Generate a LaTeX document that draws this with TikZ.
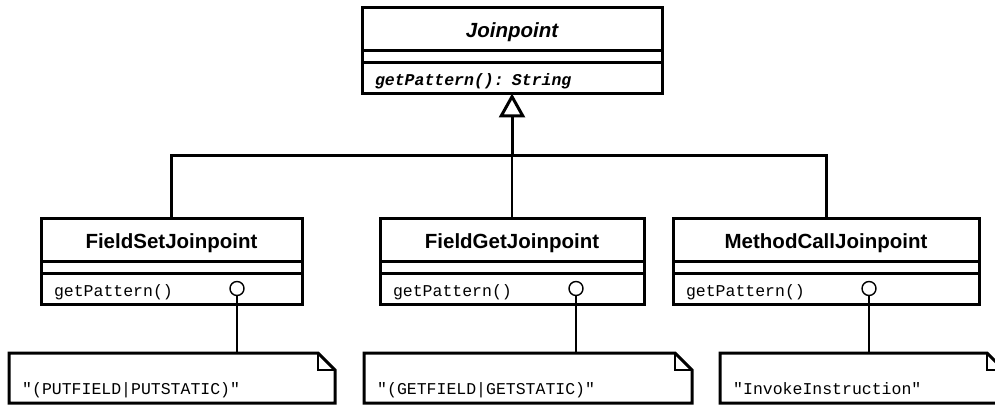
\documentclass[tikz,border=0pt]{standalone}
\usepackage{fontspec}
\setsansfont{Liberation Sans}
\setmonofont{Liberation Mono}
\usetikzlibrary{positioning,arrows.meta}

\tikzset{
  compartment/.style={draw, line width=3pt, outer sep=0pt, inner sep=0pt},
  classname/.style={compartment, minimum height=43pt, text height=18pt, text depth=0pt,
    font=\sffamily\bfseries\fontsize{20.5}{24}\selectfont},
  classattr/.style={compartment, minimum height=12pt},
  classop/.style={compartment, minimum height=31pt, inner xsep=13pt, text height=15pt,
    text depth=0pt, align=left, font=\ttfamily\fontsize{16.5}{20}\selectfont},
  port/.style={draw, circle, line width=1.4pt, fill=white, minimum size=14pt, inner sep=0pt},
  note/.style={inner sep=0pt, outer sep=0pt, minimum height=50pt, anchor=north west},
  notebox/.style={line width=3pt, line join=miter},
  notetext/.style={anchor=base west, inner sep=0pt, font=\ttfamily\fontsize{16.5}{20}\selectfont},
  noteline/.style={line width=1.4pt},
  genline/.style={line width=3pt}
}

\begin{document}
\begin{tikzpicture}[x=1pt, y=-1pt]
  \clip (0,0) rectangle (995,406);

  % abstract superclass
  \node[classname, minimum width=300pt,
    font=\sffamily\bfseries\itshape\fontsize{20.5}{24}\selectfont] (jpname) at (512,29) {Joinpoint};
  \node[classattr, minimum width=300pt, below=0pt of jpname] (jpattr) {};
  \node[classop, text width=274pt, below=0pt of jpattr,
    font=\ttfamily\bfseries\itshape\fontsize{16.5}{20}\selectfont] (jpop) {getPattern(): String};

  % subclasses
  \foreach \id/\x/\w/\title in {fs/171.5/261/FieldSetJoinpoint,
      fg/512/264/FieldGetJoinpoint, mc/826/306/MethodCallJoinpoint} {
    \pgfmathsetmacro{\tw}{\w-26}
    \node[classname, minimum width=\w pt] (\id name) at (\x,239.5) {\title};
    \node[classattr, minimum width=\w pt, below=0pt of \id name] (\id attr) {};
    \node[classop, text width=\tw pt, below=0pt of \id attr] (\id op) {getPattern()};
    \node[port] (\id port) at ([xshift=196pt]\id op.west) {};
  }

  % notes
  \foreach \id/\x/\w/\patt in {fs/9/326/"(PUTFIELD|PUTSTATIC)",
      fg/364/328/"(GETFIELD|GETSTATIC)", mc/720/284/"InvokeInstruction"} {
    \node[note, minimum width=\w pt] (\id note) at (\x,353) {};
    \node[notetext] (\id text) at ([xshift=13pt,yshift=9pt]\id note.south west) {\patt};
    \draw[notebox] (\id note.north west) -- ([xshift=-17pt]\id note.north east)
      -- ([yshift=-17pt]\id note.north east) -- (\id note.south east)
      -- (\id note.south west) -- cycle;
    \draw[noteline] ([xshift=-17pt]\id note.north east) |- ([yshift=-17pt]\id note.north east);
    \draw[noteline] (\id port.south) -- (\id port.south |- \id note.north);
  }

  % generalization
  \coordinate (joint) at (512,156);
  \draw[genline] (fsname.north) |- (joint) -| (mcname.north);
  \draw[genline, line width=2pt] (fgname.north) -- (joint);
  \draw[genline, -{Triangle[open, length=24pt, width=26pt]}] (joint) -- (jpop.south);
\end{tikzpicture}
\end{document}
